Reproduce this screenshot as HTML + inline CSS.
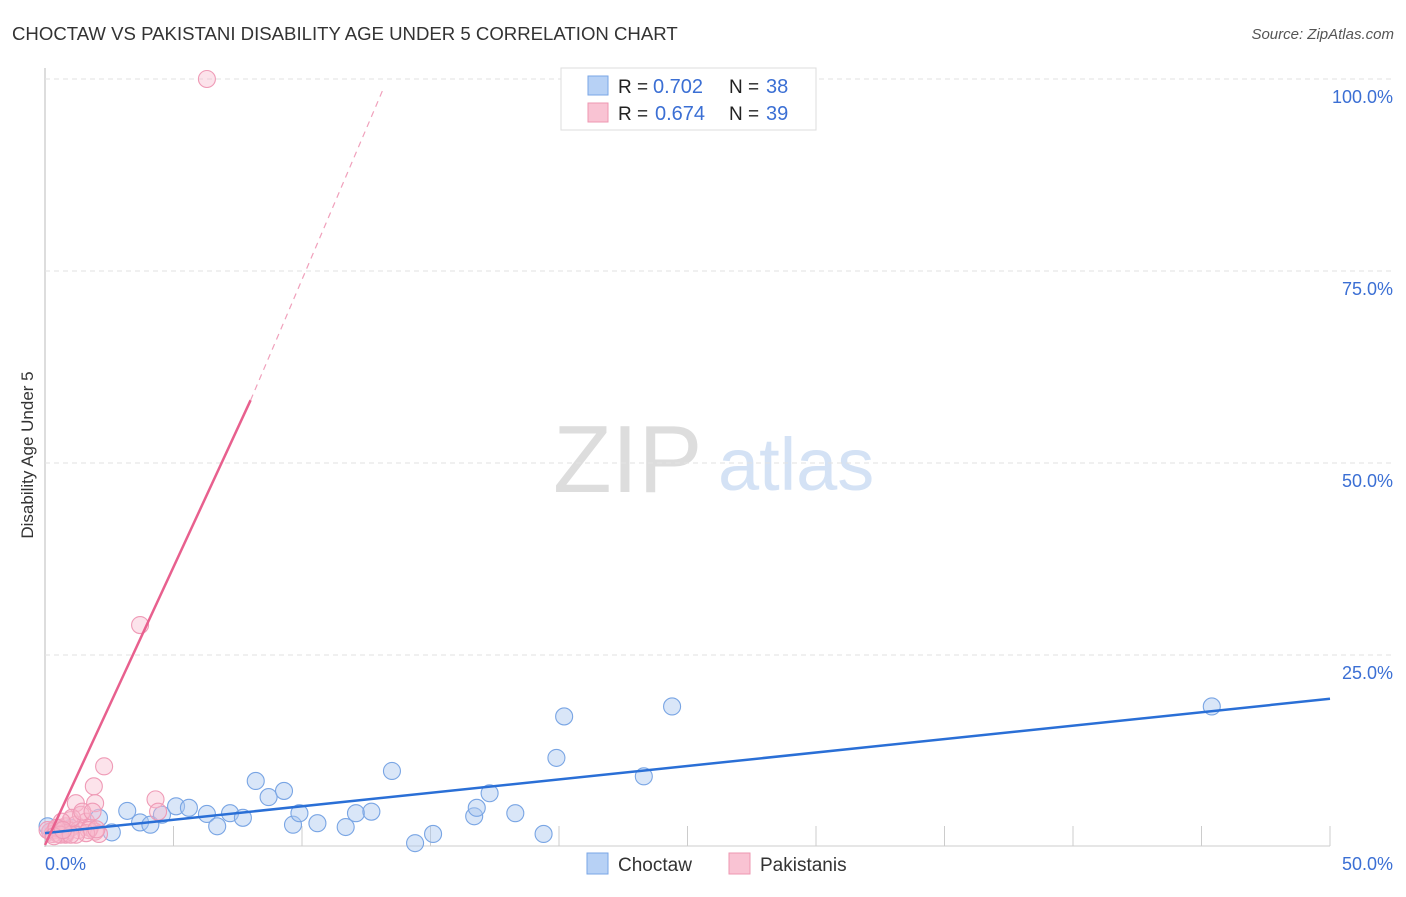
<!DOCTYPE html>
<html><head><meta charset="utf-8"><style>
body{margin:0;background:#fff;font-family:"Liberation Sans",sans-serif;}
svg text{font-family:"Liberation Sans",sans-serif;}
</style></head><body>
<svg id="c" width="1406" height="892" xmlns="http://www.w3.org/2000/svg">
<text x="12" y="40" font-size="18.6" fill="#333">CHOCTAW VS PAKISTANI DISABILITY AGE UNDER 5 CORRELATION CHART</text>
<text x="1394" y="39" font-size="15" fill="#555" text-anchor="end" font-style="italic">Source: ZipAtlas.com</text>
<text transform="translate(33,455) rotate(-90)" font-size="17" fill="#333" text-anchor="middle">Disability Age Under 5</text>
<text x="553" y="492" font-size="96" fill="#ddd" font-family="Liberation Serif">ZIP</text>
<text x="718" y="490" font-size="74" fill="#d4e2f5">atlas</text>
<g id="grid"></g><g id="pts"></g><g id="lines"></g>
<g>
<rect x="561" y="68" width="255" height="62" fill="#fff" stroke="#ddd"/>
<rect x="588" y="76" width="20" height="19" fill="#b7d1f5" stroke="#7aa6e6"/>
<rect x="588" y="103" width="20" height="19" fill="#f9c3d3" stroke="#ee97b2"/>
<text x="618" y="93" font-size="19" fill="#222">R =</text>
<text x="653" y="93" font-size="20" fill="#3b6fd4">0.702</text>
<text x="729" y="93" font-size="19" fill="#222">N =</text>
<text x="766" y="93" font-size="20" fill="#3b6fd4">38</text>
<text x="618" y="120" font-size="19" fill="#222">R =</text>
<text x="655" y="120" font-size="20" fill="#3b6fd4">0.674</text>
<text x="729" y="120" font-size="19" fill="#222">N =</text>
<text x="766" y="120" font-size="20" fill="#3b6fd4">39</text>
</g>
<g>
<rect x="587" y="853" width="21" height="21" fill="#b7d1f5" stroke="#7aa6e6"/>
<text x="618" y="871" font-size="19" fill="#333">Choctaw</text>
<rect x="729" y="853" width="21" height="21" fill="#f9c3d3" stroke="#ee97b2"/>
<text x="760" y="871" font-size="19" fill="#333">Pakistanis</text>
</g>
</svg>
<script>
const choctawX=[0.1,2.6,3.2,3.7,4.1,4.55,5.1,5.6,6.3,6.7,7.2,7.7,8.2,8.7,9.3,9.65,9.9,10.6,11.7,12.1,12.7,13.5,14.4,15.1,16.7,16.8,17.3,18.3,19.4,19.9,20.2,23.3,24.4,45.4,2.1,0.6,0.2,1.0];
const choctawY=[2.7,1.9,4.7,3.2,2.9,4.2,5.3,5.1,4.3,2.7,4.4,3.8,8.6,6.5,7.3,2.9,4.4,3.1,2.6,4.4,4.6,9.9,0.5,1.7,4.0,5.1,7.0,4.4,1.7,11.6,17.0,9.2,18.3,18.3,3.8,2.2,2.0,2.5];
const pakX=[6.3,3.7,2.3,1.9,1.95,1.2,4.3,4.4,0.2,0.4,0.6,0.8,1.0,1.2,1.4,1.6,1.75,1.95,2.1,0.8,0.5,0.3,0.9,1.3,1.7,1.05,1.45,0.65,0.1,1.85,1.6,1.2,0.8,0.45,0.6,2.0,1.0,0.35,0.7];
const pakY=[100,28.9,10.5,7.9,5.7,5.7,6.2,4.6,2.0,2.2,2.5,2.7,3.5,2.9,4.2,3.3,2.5,2.0,1.7,1.6,1.7,1.7,2.2,2.2,2.2,3.8,4.6,3.3,2.2,4.6,1.8,1.6,1.8,2.5,1.6,2.3,1.6,1.4,2.2];
const blueFit=[1.8,0.35];   // intercept, slope
const pinkFit=[0.26,7.24];
const yTicks=[25,50,75,100];
const xTickLabels=["0.0%","50.0%"];
const X=v=>45+v*25.7, Y=v=>847-v*7.68;
const NS="http://www.w3.org/2000/svg";
function mk(t,a,p){const e=document.createElementNS(NS,t);for(const k in a)e.setAttribute(k,a[k]);p.appendChild(e);return e;}
const grid=document.getElementById('grid');
mk('line',{x1:45,y1:68,x2:45,y2:847,stroke:'#bbb'},grid);
mk('line',{x1:45,y1:846,x2:1330,y2:846,stroke:'#ccc'},grid);
yTicks.forEach(t=>{
 const l=mk('line',{x1:45,x2:1394,y1:Y(t),y2:Y(t),stroke:'#e2e2e2','stroke-dasharray':'5,4'},grid);
 
 
 const tx=mk('text',{x:1393,y:Y(t)+24,'font-size':18,fill:'#3b6fd4','text-anchor':'end'},grid);tx.textContent=t.toFixed(1)+'%';
 
 
});
for(let i=1;i<=10;i++){const l=mk('line',{x1:X(i*5),x2:X(i*5),y1:826,y2:846,stroke:'#ccc'},grid);
 
 }
[[0,'start',45],[50,'end',1393]].forEach((d,i)=>{const t=mk('text',{x:d[2],y:870,'font-size':18,fill:'#3b6fd4','text-anchor':d[1]},grid);t.textContent=xTickLabels[i];
 
 });
const pts=document.getElementById('pts');
choctawX.forEach((x,i)=>{const c=mk('circle',{cx:X(x),cy:Y(choctawY[i]),r:8.5,fill:'rgba(170,200,240,0.45)',stroke:'#79a5e4','stroke-width':1.1},pts);
 
 });
pakX.forEach((x,i)=>{const c=mk('circle',{cx:X(x),cy:Y(pakY[i]),r:8.5,fill:'rgba(248,185,205,0.4)',stroke:'#ef9ab6','stroke-width':1.1},pts);
 
 });
const ln=document.getElementById('lines');
const b=mk('line',{x1:X(0),y1:Y(blueFit[0]),x2:X(50),y2:Y(blueFit[0]+50*blueFit[1]),stroke:'#2a6fd6','stroke-width':2.5},ln);


const p=mk('line',{x1:X(0),y1:Y(pinkFit[0]),x2:X(8),y2:Y(pinkFit[0]+8*pinkFit[1]),stroke:'#e8608e','stroke-width':2.5},ln);


const xe=(100-pinkFit[0])/pinkFit[1];
const pd=mk('line',{x1:X(8),y1:Y(pinkFit[0]+8*pinkFit[1]),x2:X(xe)-15,y2:Y(100)+8,stroke:'#f0a0bb','stroke-width':1.2,'stroke-dasharray':'6,5'},ln);


</script>
</body></html>
